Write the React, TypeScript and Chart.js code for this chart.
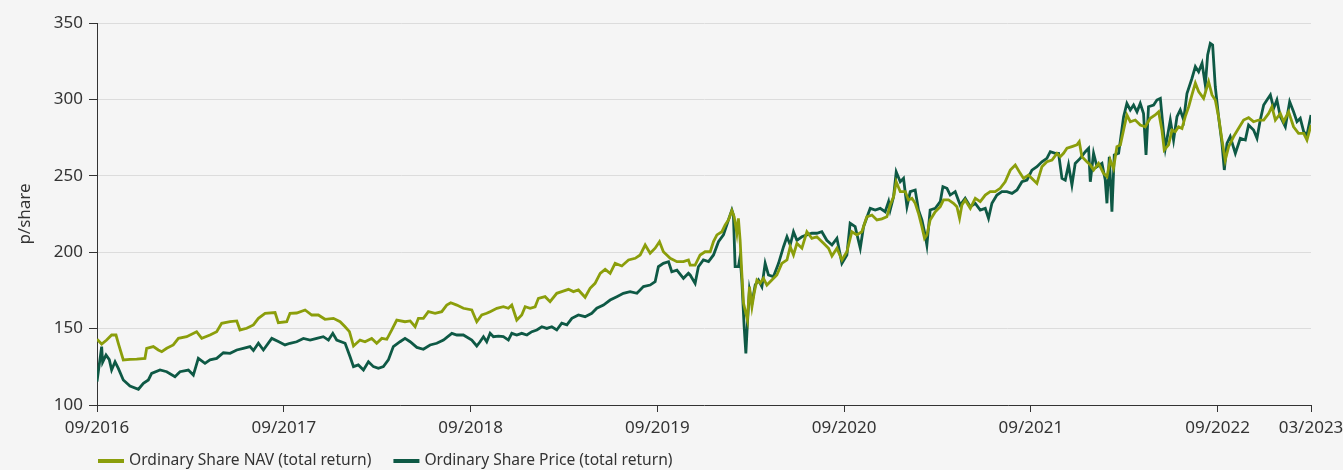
import React, { useEffect, useRef } from "react";
import { Chart, registerables } from "chart.js";

Chart.register(...registerables);

// x values are months elapsed since September 2016
const tickMonths = [0, 12, 24, 36, 48, 60, 72, 78];
const tickLabels = ["09/2016", "09/2017", "09/2018", "09/2019", "09/2020", "09/2021", "09/2022", "03/2023"];

const seriesNames = ["Ordinary Share NAV (total return)", "Ordinary Share Price (total return)"];

const navMonths = [
  0, 0.3, 0.62, 0.94, 1.22, 1.37, 1.69, 2.12, 2.55, 3.08, 3.19, 3.62, 3.94, 4.16, 4.48, 4.9, 5.23, 5.76, 6.4, 6.73,
  7.26, 7.69, 8.01, 8.55, 8.98, 9.19, 9.62, 10.05, 10.37, 10.8, 11.44, 11.65, 12.19,
  12.4, 12.83, 13.37, 13.8, 14.22, 14.65, 15.19, 15.62, 15.94, 16.22, 16.48, 16.9, 17.22, 17.65, 17.97, 18.3, 18.62,
  18.94, 19.26, 19.79, 20.12, 20.44, 20.65, 20.97, 21.29, 21.72, 22.15, 22.47, 22.73, 23.12, 23.54, 24.08, 24.4, 24.72, 25.04,
  25.26, 25.69, 26.11, 26.43, 26.65, 26.97, 27.29, 27.51, 27.83, 28.15, 28.36, 28.79, 29.11, 29.54, 29.86, 30.29, 30.61,
  30.93, 31.36, 31.68, 32.0, 32.33, 32.65, 32.97, 33.29, 33.72, 34.15, 34.58, 34.9, 35.22, 35.54, 35.86, 36.14, 36.39,
  36.83, 37.26, 37.68, 38.0,
  38.11, 38.43, 38.75, 39.07, 39.4, 39.61, 39.83, 40.15, 40.36, 40.57, 40.79, 40.94, 41.11, 41.21, 41.32, 41.43, 41.54,
  41.69, 41.79, 41.92, 42.08, 42.22, 42.4, 42.61, 42.82, 43.04, 43.36, 43.68, 44.0, 44.33, 44.54, 44.75, 44.97, 45.29,
  45.61, 45.93, 46.25, 46.68, 47.0, 47.22, 47.54, 47.86, 48.18, 48.5, 48.82, 49.14, 49.46, 49.79, 50.11, 50.43, 50.75,
  50.96, 51.18, 51.35, 51.61, 51.93, 52.14, 52.36, 52.57, 52.78, 53.0, 53.17, 53.32, 53.53, 53.86, 54.18, 54.39, 54.71,
  55.03, 55.25, 55.42, 55.57, 55.78, 56.11, 56.43, 56.75, 57.07, 57.39, 57.71, 58.03, 58.35, 58.68, 59.0, 59.32, 59.53,
  59.85, 60.17, 60.39, 60.71, 61.03, 61.36, 61.68, 61.89, 62.1, 62.32, 62.64, 62.96, 63.11, 63.28, 63.6,
  63.82, 64.03, 64.35, 64.67, 64.89, 65.1, 65.31, 65.53, 65.75, 65.96, 66.17, 66.39, 66.71, 67.03, 67.35, 67.67, 67.99,
  68.21, 68.42, 68.57, 68.85, 69.07, 69.28, 69.49, 69.71, 69.92, 70.14, 70.35, 70.57, 70.78, 71.1, 71.42, 71.64, 71.85,
  72.06, 72.28, 72.49, 72.71, 73.03, 73.35, 73.67, 73.99, 74.31, 74.63, 74.96, 75.28, 75.49, 75.71, 76.03, 76.24, 76.56,
  76.88, 77.2, 77.53, 77.74, 78.0,
];
const navValues = [
  143.0, 139.9, 142.5, 145.8, 145.8, 140.4, 129.5, 129.9, 130.0, 130.5, 137.1, 138.2, 136.0, 134.9, 137.1, 139.3, 143.6, 144.7, 148.0, 143.6,
  145.8, 148.0, 153.5, 154.5, 155.0, 149.1, 150.2, 152.4, 156.7, 160.0, 160.5, 153.9, 154.5,
  160.0, 160.2, 162.2, 158.9, 158.9, 156.1, 156.7, 154.5, 151.2, 148.0, 138.6, 142.5, 141.4, 143.6, 140.4, 143.6, 143.0,
  149.1, 155.6, 154.5, 155.0, 151.2, 156.7, 156.7, 161.1, 160.0, 161.1, 165.4, 166.9, 165.4, 163.3, 162.2, 154.5, 158.9, 160.0,
  161.1, 163.3, 164.3, 163.3, 165.4, 155.6, 158.9, 164.3, 163.3, 164.3, 169.8, 170.9, 167.6, 173.1, 174.2, 175.7, 174.2,
  175.3, 170.5, 176.4, 179.6, 186.2, 188.8, 186.2, 192.7, 191.0, 194.9, 196.0, 198.2, 204.7, 199.3, 202.6, 206.9, 200.3,
  196.0, 193.8, 193.8, 194.9,
  191.6, 191.6, 198.2, 200.3, 200.3, 206.9, 211.3, 213.4, 217.8, 221.1, 227.2, 223.2, 212.4, 222.2, 208.0, 186.2, 166.5,
  160.0, 155.6, 177.4, 164.3, 173.1, 181.8, 179.6, 182.9, 178.5, 181.8, 185.1, 192.7, 194.9, 203.6, 198.2, 205.8, 202.6,
  213.4, 209.1, 210.1, 205.8, 202.6, 197.5, 202.6, 194.9, 200.3, 213.4, 211.3, 213.4, 223.2, 224.3, 221.1, 221.8, 223.2,
  230.9, 236.3, 246.1, 239.6, 239.6, 234.2, 235.3, 232.0, 225.5, 216.7, 209.1, 211.3, 221.1, 226.5, 229.8, 234.2, 234.2,
  232.0, 229.8, 222.2, 230.9, 234.2, 228.7, 235.3, 233.1, 237.4, 239.6, 239.6, 241.8, 246.1, 253.7, 257.1, 251.6, 248.3,
  250.5, 247.2, 245.0, 255.9, 259.2, 260.3, 264.7, 262.5, 264.7, 268.0, 269.1, 270.2, 272.3, 262.5, 259.2,
  257.1, 253.8, 258.1, 251.6, 249.4, 260.3, 254.8, 269.1, 270.2, 280.0, 289.8, 285.4, 286.5, 283.2, 282.1, 287.6, 289.8,
  291.9, 280.0, 266.9, 270.2, 280.0, 278.9, 282.1, 281.0, 288.7, 295.2, 302.9, 310.6, 305.1, 300.7, 311.6, 302.9, 299.6,
  288.7, 273.4, 260.3, 269.1, 275.7, 281.1, 286.5, 288.0, 285.4, 286.5, 286.5, 290.8, 295.2, 286.5, 290.8, 285.4, 291.9,
  282.1, 277.8, 277.8, 273.4, 283.2,
];

const priceMonths = [
  0, 0.3, 0.36, 0.58, 0.79, 0.94, 1.16, 1.37, 1.69, 2.12, 2.66, 2.98, 3.3, 3.51, 4.05, 4.48, 5.01, 5.33, 5.87, 6.19,
  6.51, 6.94, 7.26, 7.69, 8.12, 8.55, 8.98, 9.4, 9.83, 10.05, 10.37, 10.69, 11.23, 11.65, 12.08,
  12.4, 12.83, 13.26, 13.69, 14.12, 14.54, 14.87, 15.15, 15.4, 15.94, 16.26, 16.48, 16.79, 17.12, 17.44, 17.76, 18.08,
  18.4, 18.72, 19.04, 19.47, 19.79, 20.12, 20.55, 20.97, 21.4, 21.83, 22.26, 22.8, 23.12, 23.54, 24.08, 24.4,
  24.61, 24.83, 25.04, 25.26, 25.47, 25.79, 26.11, 26.43, 26.65, 26.97, 27.29, 27.62, 27.94, 28.26, 28.58, 28.9, 29.22,
  29.54, 29.86, 30.19,
  30.51, 30.93, 31.36, 31.79, 32.11, 32.54, 32.97, 33.4, 33.82, 34.25, 34.69, 35.11, 35.54, 35.86, 36.07, 36.39, 36.72,
  36.93, 37.26, 37.68, 38.0,
  38.11, 38.43, 38.64, 38.96, 39.29, 39.61, 39.93, 40.25, 40.57, 40.79, 40.89, 41.0, 41.21, 41.32, 41.43, 41.58, 41.69,
  41.79, 41.92, 42.08, 42.29, 42.5, 42.72, 42.93, 43.14, 43.46, 43.79, 44.11, 44.33, 44.54, 44.75, 44.97, 45.29, 45.61,
  45.93, 46.25, 46.57, 46.89, 47.22, 47.54, 47.86, 48.18, 48.39, 48.71, 49.04, 49.25, 49.68, 50.0, 50.32, 50.64, 50.86,
  50.96, 51.18, 51.35, 51.61, 51.82, 52.04, 52.25, 52.57, 52.78, 53.0, 53.21, 53.32, 53.53, 53.86, 54.18, 54.35, 54.61,
  54.82, 55.14, 55.46, 55.78, 56.11, 56.43, 56.75, 57.07, 57.28, 57.5, 57.82, 58.14, 58.46, 58.79, 59.11, 59.43, 59.75,
  60.07, 60.39, 60.71, 61.03, 61.25, 61.57, 61.78, 62.0, 62.21, 62.42, 62.64, 62.85, 63.17, 63.5, 63.71,
  63.82, 64.03, 64.25, 64.57, 64.78, 64.89, 65.04, 65.21, 65.36, 65.64, 65.96, 66.17, 66.39, 66.6, 66.82, 67.03, 67.24,
  67.4, 67.56, 67.89, 68.1, 68.32, 68.53, 68.64, 68.96, 69.17, 69.39, 69.6, 69.82, 70.03, 70.35, 70.57, 70.78, 71.0,
  71.21, 71.36, 71.53, 71.68, 71.85, 72.06, 72.28, 72.43, 72.6, 72.81, 73.14, 73.46, 73.78, 73.99, 74.31, 74.53, 74.74,
  74.96, 75.17, 75.39, 75.6, 75.81, 76.03, 76.35, 76.63, 76.88, 77.1, 77.31, 77.53, 77.74, 78.0,
];
const priceValues = [
  115.3, 138.2, 128.0, 132.7, 129.7, 122.9, 128.3, 124.0, 116.4, 112.4, 110.3, 114.2, 116.4, 120.7, 122.9, 121.8, 118.5, 121.8, 122.9, 119.6,
  130.5, 127.3, 129.5, 130.5, 134.2, 133.8, 136.0, 137.1, 138.2, 135.7, 140.4, 136.0, 143.6, 141.5, 139.3,
  140.4, 141.4, 143.6, 142.5, 143.6, 144.7, 142.5, 146.9, 142.5, 140.4, 131.6, 125.1, 126.2, 122.9, 128.3, 125.1, 124.0,
  125.1, 129.5, 138.2, 141.4, 143.6, 141.4, 137.7, 136.5, 139.3, 140.4, 142.5, 146.9, 145.8, 145.8, 142.5, 138.6,
  141.4, 144.7, 141.4, 146.9, 144.7, 145.1, 144.7, 142.5, 146.9, 145.8, 146.9, 145.8, 148.0, 149.1, 151.2, 150.1, 151.2,
  149.1, 153.5, 152.4,
  156.7, 158.9, 157.8, 160.0, 163.3, 165.4, 168.7, 170.9, 173.1, 174.2, 173.1, 177.5, 178.5, 180.7, 190.5, 192.7, 193.8,
  187.2, 188.3, 182.9, 186.2,
  185.1, 179.6, 190.5, 194.9, 193.8, 198.2, 206.9, 211.3, 221.1, 227.6, 224.3, 190.5, 190.5, 197.1, 181.8, 151.2, 133.8,
  153.5, 175.3, 166.5, 178.5, 181.8, 177.4, 192.7, 185.1, 184.0, 192.7, 203.6, 210.1, 204.7, 213.4, 207.8, 210.1, 211.3,
  212.4, 212.4, 213.4, 207.8, 204.7, 209.1, 192.7, 198.2, 218.9, 216.7, 202.6, 216.7, 228.7, 227.6, 228.7, 226.5, 233.1,
  227.6, 236.3, 252.6, 246.1, 248.3, 229.8, 239.6, 240.7, 227.6, 221.1, 211.3, 204.7, 227.6, 228.7, 233.1, 242.9, 241.8,
  237.4, 239.6, 230.9, 235.3, 229.8, 232.0, 227.6, 228.7, 222.2, 232.0, 237.4, 239.6, 239.6, 238.5, 240.7, 246.1, 247.2,
  253.7, 255.9, 259.2, 261.4, 265.8, 264.7, 264.7, 248.3, 247.2, 257.1, 244.0, 258.1, 261.4, 265.8, 268.0,
  246.1, 264.7, 255.9, 258.1, 247.2, 232.0, 262.5, 226.5, 263.6, 264.7, 288.7, 297.4, 293.1, 296.3, 291.9, 297.4, 290.8,
  263.6, 295.2, 296.3, 299.6, 300.7, 277.8, 268.0, 286.5, 273.4, 288.7, 293.1, 286.5, 303.9, 313.7, 321.4, 318.1, 323.6,
  309.4, 329.1, 336.7, 335.6, 308.3, 288.7, 271.2, 253.8, 271.2, 275.7, 264.7, 274.5, 273.4, 283.2, 280.0, 274.5, 286.5,
  296.3, 299.6, 302.9, 294.1, 299.6, 288.7, 282.1, 298.5, 291.9, 285.4, 287.6, 278.9, 276.7, 289.8,
];

const FONT = "'Noto Sans', 'Open Sans', sans-serif";
const TEXT = "#333333";
const NAV_COLOR = "#8b9e0b";
const PRICE_COLOR = "#0e5945";

const toPoints = (xs: number[], ys: number[]) => xs.map((x, i) => ({ x, y: ys[i] }));

const bottomLegend = {
  id: "bottomLegend",
  afterDraw(chart: any) {
    const ctx = chart.ctx;
    const area = chart.chartArea;
    const y = chart.height - 9;
    let x = area.left + 1;
    ctx.save();
    ctx.font = `15.6px ${FONT}`;
    ctx.textBaseline = "middle";
    ctx.textAlign = "left";
    chart.data.datasets.forEach((ds: any) => {
      ctx.fillStyle = ds.borderColor;
      ctx.fillRect(x, y - 2, 26, 4);
      x += 31;
      ctx.fillStyle = TEXT;
      ctx.fillText(ds.label, x, y);
      x += ctx.measureText(ds.label).width + 22;
    });
    ctx.restore();
  },
};

export default function App() {
  const ref = useRef<HTMLCanvasElement | null>(null);

  useEffect(() => {
    if (!ref.current) return;
    const chart = new Chart(ref.current, {
      type: "line",
      data: {
        datasets: [
          {
            label: seriesNames[0],
            data: toPoints(navMonths, navValues),
            borderColor: NAV_COLOR,
            backgroundColor: NAV_COLOR,
            borderWidth: 2.8,
            pointRadius: 0,
            tension: 0,
            order: 0,
          },
          {
            label: seriesNames[1],
            data: toPoints(priceMonths, priceValues),
            borderColor: PRICE_COLOR,
            backgroundColor: PRICE_COLOR,
            borderWidth: 2.8,
            pointRadius: 0,
            tension: 0,
            order: 1,
          },
        ],
      },
      options: {
        animation: false,
        responsive: false,
        maintainAspectRatio: false,
        layout: { padding: { top: 23, right: 32, left: 0, bottom: 0 } },
        plugins: {
          legend: { display: false },
          tooltip: { enabled: false },
        },
        scales: {
          x: {
            type: "linear",
            min: 0,
            max: 78,
            afterBuildTicks: (s: any) => {
              s.ticks = tickMonths.map((v) => ({ value: v }));
            },
            afterFit: (s: any) => {
              s.height = 65;
              s.paddingLeft = 0;
              s.paddingRight = 0;
            },
            ticks: {
              autoSkip: false,
              maxRotation: 0,
              minRotation: 0,
              padding: 6,
              color: TEXT,
              font: { family: FONT, size: 17 },
              callback: (v: any) => tickLabels[tickMonths.indexOf(Number(v))],
            },
            grid: { drawOnChartArea: false, drawTicks: true, tickLength: 7, color: TEXT },
            border: { display: true, color: TEXT, width: 1 },
          },
          y: {
            min: 100,
            max: 350,
            afterFit: (s: any) => {
              s.width = 97;
            },
            ticks: { stepSize: 50, padding: 6, color: TEXT, font: { family: FONT, size: 17 } },
            grid: { color: "#dcdcdc", tickColor: TEXT, tickLength: 8, lineWidth: 1 },
            border: { display: true, color: TEXT, width: 1 },
            title: {
              display: true,
              text: "p/share",
              color: TEXT,
              font: { family: FONT, size: 17 },
              padding: { top: 15, bottom: 0 },
            },
          },
        },
      },
      plugins: [bottomLegend],
    });
    return () => chart.destroy();
  }, []);

  return (
    <div style={{ position: "fixed", left: 0, top: 0, width: 1343, height: 470, background: "#f5f5f5" }}>
      <canvas ref={ref} width={1343} height={470} style={{ display: "block" }} />
    </div>
  );
}
